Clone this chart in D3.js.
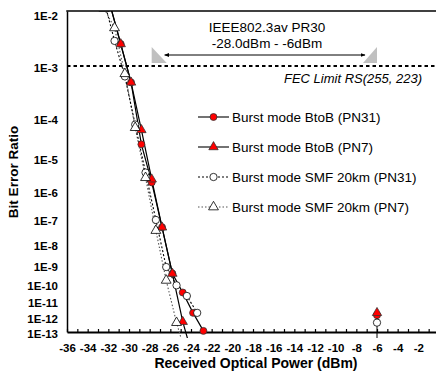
<!DOCTYPE html>
<html>
<head>
<meta charset="utf-8">
<script src="https://cdn.jsdelivr.net/npm/d3@7"></script>
<style>
body { margin: 0; background: #fff; }
svg { display: block; }
text { font-family: "Liberation Sans", Arial, sans-serif; }
</style>
</head>
<body>
<div id="chart"></div>
<script>
var width = 436
var height = 376
var plotLeft = 67, plotTop = 11, plotRight = 439, plotBottom = 332

// axis ticks
var xTicks = [-36, -34, -32, -30, -28, -26, -24, -22, -20, -18, -16, -14, -12, -10, -8, -6, -4, -2, 0]
var xMinorTicks = [-36, -35, -34, -33, -32, -31, -30, -29, -28, -27, -26, -25, -24, -23, -22, -21, -20, -19, -18,
    -17, -16, -15, -14, -13, -12, -11, -10, -9, -8, -7, -6, -5, -4, -3, -2, -1, 0]
var berTicks = [1e-2, 1e-3, 1e-4, 1e-5, 1e-6, 1e-7, 1e-8, 1e-9, 1e-10, 1e-11, 1e-12, 1e-13]
var berLabels = ["1E-2", "1E-3", "1E-4", "1E-5", "1E-6", "1E-7", "1E-8", "1E-9", "1E-10", "1E-11", "1E-12", "1E-13"]

// measured curves (received power dBm, BER)
var btobPN31Power = [-31.8, -30.8, -29.8, -28.8, -27.8, -26.8, -25.8, -24.8, -23.8, -22.8]
var btobPN31Ber = [7e-3, 2.2e-3, 5.2e-4, 2.4e-5, 2.0e-6, 5.0e-8, 3.8e-10, 3.5e-11, 2.0e-12, 1.2e-13]
var btobPN7Power = [-31.8, -30.8, -29.8, -28.8, -27.8, -26.8, -25.8, -24.8, -23.8]
var btobPN7Ber = [7e-3, 2.2e-3, 5.2e-4, 5.4e-5, 2.5e-6, 5.0e-8, 3.8e-10, 5.2e-13, 1e-15]
var smfPN31Power = [-32.4, -31.4, -30.4, -29.4, -28.4, -27.4, -26.4, -25.4, -24.4, -23.4]
var smfPN31Ber = [8e-3, 2.44e-3, 6.65e-4, 7.2e-5, 4.0e-6, 9.8e-8, 8.2e-10, 8.9e-11, 2.2e-11, 2.0e-12]
var smfPN7Power = [-32.4, -31.4, -30.4, -29.4, -28.4, -27.4, -26.4, -25.4, -24.4]
var smfPN7Ber = [6.5e-3, 3.7e-3, 7.4e-4, 6.1e-5, 2.8e-6, 3.7e-8, 1.66e-10, 4.5e-13, 1e-15]

// overload points at -6 dBm
var overloadPower = -6
var overloadBer = [1.4e-12, 2e-12, 4.5e-13, 1e-15]

var seriesNames = ["Burst mode BtoB (PN31)", "Burst mode BtoB (PN7)", "Burst mode SMF 20km (PN31)", "Burst mode SMF 20km (PN7)"]

var fecBer = 1e-3
var specMin = -28, specMax = -6

function q(ber) { return Math.log10(-Math.log10(ber)) }

var x = d3.scaleLinear().domain([-36, 0]).range([plotLeft, plotRight])
var y = d3.scaleLinear().domain([q(1e-3), q(1e-13)]).range([66, plotBottom])

var svg = d3.select("#chart").append("svg")
    .attr("width", width)
    .attr("height", height)

svg.append("defs").append("clipPath").attr("id", "clip")
    .append("rect")
    .attr("x", plotLeft).attr("y", plotTop)
    .attr("width", width - plotLeft).attr("height", 338 - plotTop)

var styles = [
    {marker: d3.symbolCircle, size: 38, fill: "#ff0000", stroke: "#333", dash: null, line: "#000"},
    {marker: d3.symbolTriangle, size: 38, fill: "#ff0000", stroke: "#333", dash: null, line: "#000"},
    {marker: d3.symbolCircle, size: 42, fill: "#fff", stroke: "#000", dash: "2,2", line: "#000"},
    {marker: d3.symbolTriangle, size: 42, fill: "#fff", stroke: "#000", dash: "1.5,2", line: "#555"}
]
var powers = [btobPN31Power, btobPN7Power, smfPN31Power, smfPN7Power]
var bers = [btobPN31Ber, btobPN7Ber, smfPN31Ber, smfPN7Ber]
var series = seriesNames.map(function(name, i) {
    return {
        name: name,
        style: styles[i],
        points: powers[i].map(function(p, j) { return [p, bers[i][j]] }),
        overload: [overloadPower, overloadBer[i]]
    }
})

// FEC limit
svg.append("line")
    .attr("x1", plotLeft).attr("x2", width)
    .attr("y1", y(q(fecBer))).attr("y2", y(q(fecBer)))
    .attr("stroke", "#000").attr("stroke-width", 2)
    .attr("stroke-dasharray", "3.5,3")
svg.append("text")
    .attr("x", 422).attr("y", y(q(fecBer)) + 17)
    .attr("text-anchor", "end")
    .attr("font-size", 13).attr("font-style", "italic")
    .text("FEC Limit RS(255, 223)")

// PR30 power range annotation
svg.append("text").attr("x", 267).attr("y", 32)
    .attr("text-anchor", "middle").attr("font-size", 13.5)
    .text("IEEE802.3av PR30")
svg.append("text").attr("x", 267).attr("y", 48)
    .attr("text-anchor", "middle").attr("font-size", 13.5)
    .text("-28.0dBm - -6dBm")
var marker = svg.select("defs").append("marker")
    .attr("id", "head").attr("viewBox", "0 0 10 10")
    .attr("refX", 9).attr("refY", 5)
    .attr("markerWidth", 5).attr("markerHeight", 5)
    .attr("orient", "auto-start-reverse")
marker.append("path").attr("d", "M0,1L10,5L0,9z").attr("fill", "#000")
svg.append("line")
    .attr("x1", x(specMin) + 15).attr("x2", x(specMax) - 12)
    .attr("y1", 55).attr("y2", 55)
    .attr("stroke", "#000").attr("stroke-width", 1)
    .attr("marker-start", "url(#head)").attr("marker-end", "url(#head)")
svg.append("path")
    .attr("d", "M" + (x(specMin) + 2) + ",47V63H" + (x(specMin) + 17) + "Z")
    .attr("fill", "#c0c0c0")
svg.append("path")
    .attr("d", "M" + x(specMax) + ",47V63H" + (x(specMax) - 14) + "Z")
    .attr("fill", "#c0c0c0")

// axes
var xMinor = d3.axisBottom(x).tickValues(xMinorTicks).tickSizeInner(-3).tickSizeOuter(0).tickFormat("")
var gx = svg.append("g").attr("transform", "translate(0," + plotBottom + ")").call(xMinor)
gx.select(".domain").attr("stroke-width", 2)
gx.selectAll(".tick line").attr("stroke-width", 1.2)

var xLabels = d3.axisBottom(x).tickValues(xTicks).tickSize(0).tickPadding(12)
    .tickFormat(function(d) { return String(d) })
var gxl = svg.append("g").attr("transform", "translate(0," + plotBottom + ")").call(xLabels)
gxl.select(".domain").remove()
gxl.selectAll("text").attr("font-size", 11.5).attr("font-weight", "bold")
    .attr("font-family", "'Liberation Sans', Arial, sans-serif")

var yAxisScale = d3.scaleLinear().domain([y.invert(plotTop), q(1e-13)]).range([plotTop, plotBottom]).clamp(true)
var gy = svg.append("g").attr("transform", "translate(" + plotLeft + ",0)")
    .call(d3.axisLeft(yAxisScale).tickValues(berTicks.map(q)).tickSize(0).tickPadding(9)
        .tickFormat(function(d, i) { return berLabels[i] }))
gy.select(".domain").attr("stroke-width", 1.5)
gy.selectAll("text").attr("font-size", 11.5).attr("font-weight", "bold")
    .attr("font-family", "'Liberation Sans', Arial, sans-serif")
    .attr("dy", function(d, i) { return i == 0 ? "0.7em" : "0.45em" })

svg.append("line")
    .attr("x1", plotLeft - 0.75).attr("x2", width)
    .attr("y1", plotTop).attr("y2", plotTop)
    .attr("stroke", "#000").attr("stroke-width", 1.5)

svg.append("text")
    .attr("x", 256).attr("y", 368)
    .attr("text-anchor", "middle")
    .attr("font-size", 14).attr("font-weight", "bold")
    .text("Received Optical Power (dBm)")
svg.append("text")
    .attr("transform", "translate(18,172) rotate(-90)")
    .attr("text-anchor", "middle")
    .attr("font-size", 13.5).attr("font-weight", "bold")
    .text("Bit Error Ratio")

// data
var plot = svg.append("g").attr("clip-path", "url(#clip)")
var line = d3.line()
    .x(function(d) { return x(d[0]) })
    .y(function(d) { return y(q(d[1])) })

plot.append("line")
    .attr("x1", x(overloadPower)).attr("x2", x(overloadPower))
    .attr("y1", y(q(d3.max(overloadBer)))).attr("y2", y(q(d3.min(overloadBer))))
    .attr("stroke", "#000").attr("stroke-width", 1)

series.slice().reverse().forEach(function(s) {
    plot.append("path")
        .datum(s.points)
        .attr("d", line)
        .attr("fill", "none")
        .attr("stroke", s.style.line)
        .attr("stroke-width", s.style.dash ? 1.1 : 1.2)
        .attr("stroke-dasharray", s.style.dash)
})
series.forEach(function(s) {
    plot.selectAll(null)
        .data(s.points.concat([s.overload]))
        .enter().append("path")
        .attr("transform", function(d) { return "translate(" + x(d[0]) + "," + y(q(d[1])) + ")" })
        .attr("d", d3.symbol().type(s.style.marker).size(s.style.size))
        .attr("fill", s.style.fill)
        .attr("stroke", s.style.stroke)
        .attr("stroke-width", 0.8)
})

// legend
var legend = svg.append("g")
series.forEach(function(s, i) {
    var ly = 117 + i * 30
    legend.append("line")
        .attr("x1", 198).attr("x2", 229).attr("y1", ly).attr("y2", ly)
        .attr("stroke", s.style.line).attr("stroke-width", 1.1)
        .attr("stroke-dasharray", s.style.dash)
    legend.append("path")
        .attr("transform", "translate(213.5," + ly + ")")
        .attr("d", d3.symbol().type(s.style.marker).size(s.style.size))
        .attr("fill", s.style.fill)
        .attr("stroke", s.style.stroke)
        .attr("stroke-width", 0.8)
    legend.append("text")
        .attr("x", 232).attr("y", ly).attr("dy", "0.36em")
        .attr("font-size", 13.5)
        .text(s.name)
})
</script>
</body>
</html>
